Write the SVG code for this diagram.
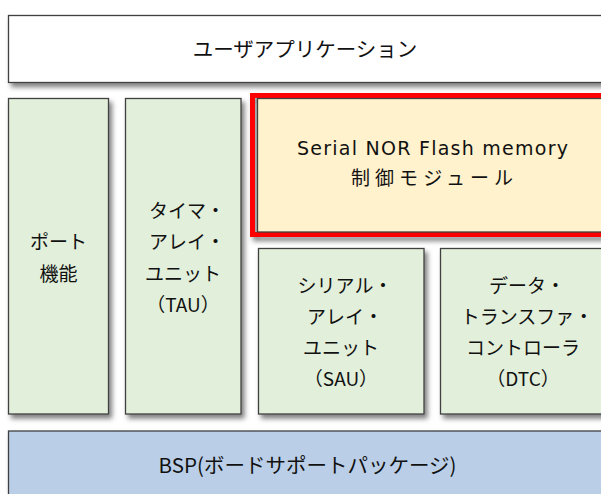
<svg xmlns="http://www.w3.org/2000/svg" width="601" height="494" viewBox="0 0 601 494">
<style>
.box{stroke:#404040;stroke-width:1.3}
.w{fill:#ffffff}
.g{fill:#e2efda}
.y{fill:#fff2cc}
.b{fill:#bacfe7}
.red{fill:none;stroke:#ff0000;stroke-width:5}
text{font-family:"Noto Sans CJK JP","Noto Sans",sans-serif;fill:#111111;text-anchor:middle}
.lat{font-family:"DejaVu Sans","Noto Sans CJK JP",sans-serif}
.t19{font-size:19px}
.t20{font-size:20.5px}
</style>
<defs>
<filter id="sh" x="-10%" y="-10%" width="130%" height="130%">
<feDropShadow dx="3" dy="4" stdDeviation="2.5" flood-color="#000" flood-opacity="0.5"/>
</filter>
</defs>
<rect width="601" height="494" fill="#ffffff"/>
<g id="user-app">
<rect class="box w" x="8.5" y="15.5" width="594" height="67" filter="url(#sh)"/>
<text class="t20" x="305" y="57">ユーザアプリケーション</text>
</g>
<g id="port">
<rect class="box g" x="8.5" y="98.5" width="100" height="315.5" filter="url(#sh)"/>
<text class="t19" x="58.5" y="249">ポート</text>
<text class="t19" x="58.5" y="280.5">機能</text>
</g>
<g id="tau">
<rect class="box g" x="125.5" y="98.5" width="115.5" height="315.5" filter="url(#sh)"/>
<text class="t19" x="187" y="218">タイマ・</text>
<text class="t19" x="187" y="249">アレイ・</text>
<text class="t19" x="183" y="280.5">ユニット</text>
<text class="t19" x="183" y="311.5">（TAU）</text>
</g>
<g id="flash-module">
<rect class="red" x="252.5" y="95.5" width="360" height="139" filter="url(#sh)"/>
<rect class="box y" x="257.5" y="98.5" width="350" height="133.5"/>
<text class="t19 lat" x="432.5" y="155" textLength="271" lengthAdjust="spacing">Serial NOR Flash memory</text>
<text class="t19" x="432" y="185" textLength="162" lengthAdjust="spacing">制御モジュール</text>
</g>
<g id="sau">
<rect class="box g" x="258.5" y="248.5" width="165.5" height="165.5" filter="url(#sh)"/>
<text class="t19" x="345" y="293">シリアル・</text>
<text class="t19" x="345" y="324">アレイ・</text>
<text class="t19" x="341" y="355">ユニット</text>
<text class="t19" x="341" y="386">（SAU）</text>
</g>
<g id="dtc">
<rect class="box g" x="440.5" y="248.5" width="166" height="165.5" filter="url(#sh)"/>
<text class="t19" x="527" y="293">データ・</text>
<text class="t19" x="527" y="324">トランスファ・</text>
<text class="t19" x="523" y="355">コントローラ</text>
<text class="t19" x="523" y="386">（DTC）</text>
</g>
<g id="bsp">
<rect class="box b" x="8.5" y="431" width="594" height="80" filter="url(#sh)"/>
<text class="t20" x="307.5" y="473">BSP(ボードサポートパッケージ)</text>
</g>
<g id="connectors"/>
</svg>
